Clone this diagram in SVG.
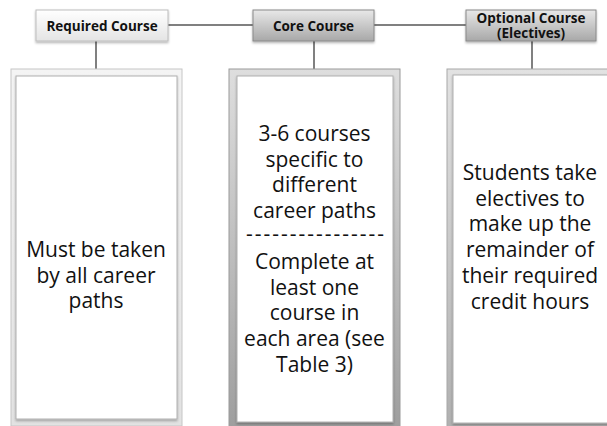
<svg xmlns="http://www.w3.org/2000/svg" width="607" height="426" viewBox="0 0 607 426">
<defs>
<style>
.hd{font-family:"Open Sans","Noto Sans","DejaVu Sans",sans-serif;font-weight:bold;font-size:13.5px;fill:#111;text-anchor:middle}
.bd{font-family:"Open Sans","Noto Sans","DejaVu Sans",sans-serif;font-size:21px;fill:#111;text-anchor:middle}
.con{stroke:#808080;stroke-width:2;fill:none}
.inner{fill:#fff;stroke:#b0b0b0;stroke-width:1}
</style>
<linearGradient id="gReq" x1="0" y1="0" x2="0" y2="1"><stop offset="0" stop-color="#ffffff"/><stop offset="1" stop-color="#e4e4e4"/></linearGradient>
<linearGradient id="gDark" x1="0" y1="0" x2="0" y2="1"><stop offset="0" stop-color="#e8e8e8"/><stop offset="1" stop-color="#a8a8a8"/></linearGradient>
<linearGradient id="fLeft" x1="0" y1="0" x2="0" y2="1"><stop offset="0" stop-color="#f4f4f4"/><stop offset="1" stop-color="#e2e2e2"/></linearGradient>
<linearGradient id="fMid" x1="0" y1="0" x2="0" y2="1"><stop offset="0" stop-color="#dedede"/><stop offset="1" stop-color="#9e9e9e"/></linearGradient>
<linearGradient id="fRight" x1="0" y1="0" x2="0" y2="1"><stop offset="0" stop-color="#e2e2e2"/><stop offset="1" stop-color="#b0b0b0"/></linearGradient>
<filter id="sh" x="-10%" y="-10%" width="120%" height="130%"><feDropShadow dx="0" dy="1.5" stdDeviation="1" flood-color="#000" flood-opacity="0.3"/></filter>
</defs>
<rect width="607" height="426" fill="#fff"/>
<g id="connectors">
<line class="con" x1="168" y1="25" x2="253" y2="25"/>
<line class="con" x1="374" y1="25" x2="466" y2="25"/>
<line class="con" x1="96" y1="41" x2="96" y2="69"/>
<line class="con" x1="314" y1="41" x2="314" y2="69"/>
<line class="con" x1="532" y1="41" x2="532" y2="69"/>
</g>
<g id="required-course">
<rect x="36" y="10" width="132" height="31" fill="url(#gReq)" stroke="#bdbdbd" filter="url(#sh)"/>
<text class="hd" x="102" y="31">Required Course</text>
</g>
<g id="core-course">
<rect x="253" y="10" width="121" height="31" fill="url(#gDark)" stroke="#8a8a8a" filter="url(#sh)"/>
<text class="hd" x="313.5" y="31">Core Course</text>
</g>
<g id="optional-course">
<rect x="466" y="10" width="130" height="31" fill="url(#gDark)" stroke="#8a8a8a" filter="url(#sh)"/>
<text class="hd" x="531" y="23">Optional Course</text>
<text class="hd" x="531" y="37.5">(Electives)</text>
</g>
<g id="required-box">
<rect x="11" y="69" width="171" height="357" fill="url(#fLeft)" stroke="#c6c6c6"/>
<rect class="inner" x="16" y="76" width="161" height="343" filter="url(#sh)"/>
<text class="bd" x="96" y="257">Must be taken</text>
<text class="bd" x="96" y="283">by all career</text>
<text class="bd" x="96" y="308">paths</text>
</g>
<g id="core-box">
<rect x="229" y="69" width="171" height="360" fill="url(#fMid)" stroke="#9a9a9a"/>
<rect class="inner" x="237" y="76" width="156" height="346" filter="url(#sh)"/>
<text class="bd" x="314.5" y="141">3-6 courses</text>
<text class="bd" x="314.5" y="166.5">specific to</text>
<text class="bd" x="314.5" y="192">different</text>
<text class="bd" x="314.5" y="218">career paths</text>
<text class="bd" x="315" y="241" textLength="138" lengthAdjust="spacing">----------------</text>
<text class="bd" x="314.5" y="269">Complete at</text>
<text class="bd" x="314.5" y="294.5">least one</text>
<text class="bd" x="314.5" y="320">course in</text>
<text class="bd" x="314.5" y="346">each area (see</text>
<text class="bd" x="314.5" y="371.5">Table 3)</text>
</g>
<g id="optional-box">
<rect x="447" y="69" width="170" height="360" fill="url(#fRight)" stroke="#a8a8a8"/>
<rect class="inner" x="453" y="75" width="170" height="348" filter="url(#sh)"/>
<text class="bd" x="530" y="179.5">Students take</text>
<text class="bd" x="530" y="205.5">electives to</text>
<text class="bd" x="530" y="231">make up the</text>
<text class="bd" x="530" y="257">remainder of</text>
<text class="bd" x="530" y="283">their required</text>
<text class="bd" x="530" y="309">credit hours</text>
</g>
</svg>
